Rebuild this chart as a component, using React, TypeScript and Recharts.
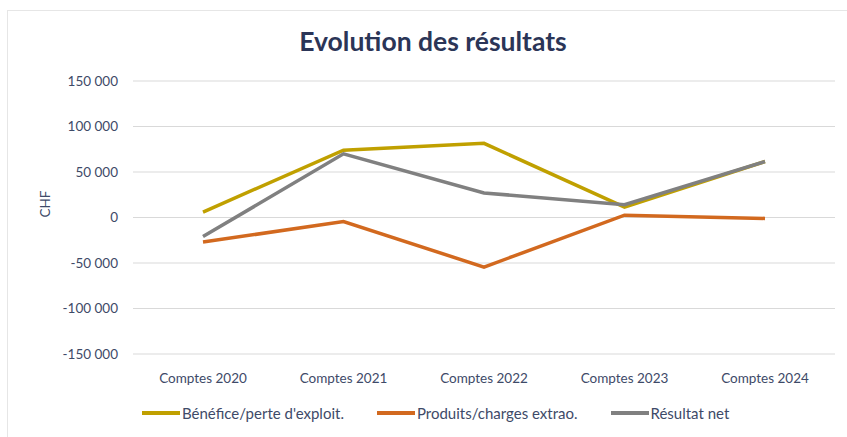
import { LineChart, Line, XAxis, YAxis, CartesianGrid, Legend, Label } from "recharts";

const categories = ["Comptes 2020", "Comptes 2021", "Comptes 2022", "Comptes 2023", "Comptes 2024"];
const benefice = [6000, 74000, 81500, 11500, 61500];
const produits = [-27000, -4500, -54500, 2500, -1000];
const resultat = [-21000, 70000, 27000, 14000, 61500];
const yTicks = [-150000, -100000, -50000, 0, 50000, 100000, 150000];

const SERIES = [
  { key: "benefice", name: "Bénéfice/perte d'exploit.", color: "#C0A000" },
  { key: "produits", name: "Produits/charges extrao.", color: "#D2691F" },
  { key: "resultat", name: "Résultat net", color: "#808080" },
];

const data = categories.map((c, i) => ({
  name: c,
  benefice: benefice[i],
  produits: produits[i],
  resultat: resultat[i],
}));

const TEXT = "#3E4A68";
const FONT = "Lato, 'Open Sans', sans-serif";

const fmt = (v: number) => {
  const s = Math.abs(v).toString().replace(/\B(?=(\d{3})+(?!\d))/g, " ");
  return v < 0 ? "-" + s : s;
};

const LegendContent = () => (
  <div
    style={{
      display: "flex",
      alignItems: "center",
      height: 47,
      paddingLeft: 142,
      paddingBottom: 2,
      boxSizing: "border-box",
      fontFamily: FONT,
      fontSize: 15,
      color: TEXT,
    }}
  >
    {SERIES.map((s) => (
      <div key={s.key} style={{ display: "flex", alignItems: "center", marginRight: 33 }}>
        <div style={{ width: 38, height: 4, background: s.color, marginRight: 2 }} />
        <span>{s.name}</span>
      </div>
    ))}
  </div>
);

export default function App() {
  return (
    <div style={{ position: "fixed", left: 0, top: 0, width: 847, height: 437, background: "#fff", overflow: "hidden" }}>
      <div
        style={{
          position: "absolute",
          left: 7,
          top: 10,
          width: 860,
          height: 440,
          border: "1px solid #e6e6e6",
        }}
      />
      <div
        style={{
          position: "absolute",
          top: 25,
          left: 0,
          width: 866,
          textAlign: "center",
          fontFamily: FONT,
          fontWeight: 700,
          fontSize: 26.5,
          color: "#2B3557",
        }}
      >
        Evolution des résultats
      </div>
      <div style={{ position: "absolute", left: 0, top: 0 }}>
        <LineChart width={847} height={437} data={data} margin={{ top: 81, right: 12, bottom: 0, left: 0 }}>
          <CartesianGrid vertical={false} stroke="#d9d9d9" />
          <XAxis
            dataKey="name"
            axisLine={false}
            tickLine={false}
            tickMargin={13}
            height={36}
            padding={{ left: 70, right: 70 }}
            tick={{ fill: TEXT, fontSize: 13.5, fontFamily: FONT }}
          />
          <YAxis
            width={133}
            domain={[-150000, 150000]}
            ticks={yTicks}
            tickFormatter={fmt}
            axisLine={false}
            tickLine={false}
            tickSize={0}
            tickMargin={15}
            tick={{ fill: TEXT, fontSize: 13.5, fontFamily: FONT }}
          >
            <Label value="CHF" angle={-90} position="insideLeft" offset={45} style={{ fill: TEXT, fontSize: 13.5, fontFamily: FONT }} />
          </YAxis>
          <Legend verticalAlign="bottom" height={47} content={<LegendContent />} />
          {SERIES.map((s) => (
            <Line
              key={s.key}
              dataKey={s.key}
              name={s.name}
              stroke={s.color}
              strokeWidth={3.5}
              dot={false}
              isAnimationActive={false}
            />
          ))}
        </LineChart>
      </div>
    </div>
  );
}
